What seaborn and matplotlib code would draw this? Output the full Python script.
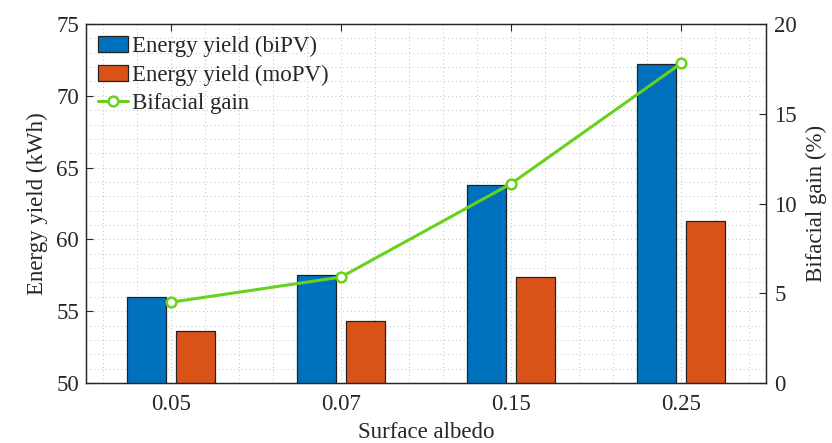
import numpy as np
import pandas as pd
import matplotlib
matplotlib.use("Agg")
import matplotlib.pyplot as plt
from matplotlib.ticker import MultipleLocator
import seaborn as sns

albedo = ["0.05", "0.07", "0.15", "0.25"]
yield_bipv = [56.0, 57.5, 63.8, 72.2]
yield_mopv = [53.6, 54.3, 57.4, 61.3]
bifacial_gain = [4.5, 5.9, 11.1, 17.8]
series_names = ["Energy yield (biPV)", "Energy yield (moPV)"]

sns.set_style("white")
plt.rcParams["font.family"] = ["Liberation Serif", "DejaVu Serif"]
plt.rcParams["mathtext.fontset"] = "stix"

df = pd.DataFrame({
    "albedo": albedo * 2,
    "value": yield_bipv + yield_mopv,
    "series": [series_names[0]] * 4 + [series_names[1]] * 4,
})

fig = plt.figure(figsize=(8.32, 4.43), dpi=100)
ax = fig.add_axes([86/832, 1 - 383/443, (766-86)/832, (383-24)/443])

blue = "#0072BD"
orange = "#D95319"
green = "#66D21E"
axcol = "#262626"
fs = 16.5

sns.barplot(data=df, x="albedo", y="value", hue="series", order=albedo,
            hue_order=series_names, palette=[blue, orange],
            width=0.572, gap=0.2, edgecolor="#222222", linewidth=0.9,
            saturation=1, ax=ax, legend=True)

ax.set_ylim(50, 75)
ax.set_xlim(-0.5, 3.5)
ax.set_yticks([50, 55, 60, 65, 70, 75])
ax.yaxis.set_minor_locator(MultipleLocator(1))
ax.xaxis.set_minor_locator(MultipleLocator(0.2))
ax.set_xlabel("Surface albedo", fontsize=fs, labelpad=5)
ax.set_ylabel("Energy yield (kWh)", fontsize=fs, labelpad=6)
ax.grid(True, which="both", linestyle=(0, (1, 3)), color="#c0c0c0", linewidth=0.7)
ax.set_axisbelow(True)
ax.tick_params(axis="both", which="major", direction="in", labelsize=fs,
               length=5, width=0.8, color=axcol, top=True)
ax.tick_params(axis="y", which="major", right=False, pad=5)
ax.tick_params(axis="both", which="minor", length=0)
ax.tick_params(axis="x", which="major", pad=8)
for s in ax.spines.values():
    s.set_color(axcol)
    s.set_linewidth(0.9)

ax2 = ax.twinx()
sns.lineplot(x=np.arange(len(albedo)), y=bifacial_gain, ax=ax2, color=green,
             linewidth=2.2, marker="o", markersize=7, markerfacecolor="white",
             markeredgecolor=green, markeredgewidth=1.8, label="Bifacial gain",
             legend=False)
ax2.set_ylim(0, 20)
ax2.set_yticks([0, 5, 10, 15, 20])
ax2.set_xlim(-0.5, 3.5)
ax2.set_ylabel("Bifacial gain (%)", fontsize=fs, labelpad=6)
ax2.tick_params(axis="y", direction="in", labelsize=fs, length=5, width=0.8,
                color=axcol, pad=6)
ax2.grid(False)
for s in ax2.spines.values():
    s.set_color(axcol)
    s.set_linewidth(0.9)

h1, l1 = ax.get_legend_handles_labels()
h2, l2 = ax2.get_legend_handles_labels()
if ax.get_legend() is not None:
    ax.get_legend().remove()
leg = ax2.legend(h1 + h2, l1 + l2, loc="upper left", frameon=False,
                 fontsize=fs, handlelength=1.3, handleheight=0.7,
                 handletextpad=0.15, labelspacing=0.32, borderaxespad=0.0,
                 borderpad=0.3, bbox_to_anchor=(0.008, 0.985))

fig.savefig("out.png", dpi=100)
